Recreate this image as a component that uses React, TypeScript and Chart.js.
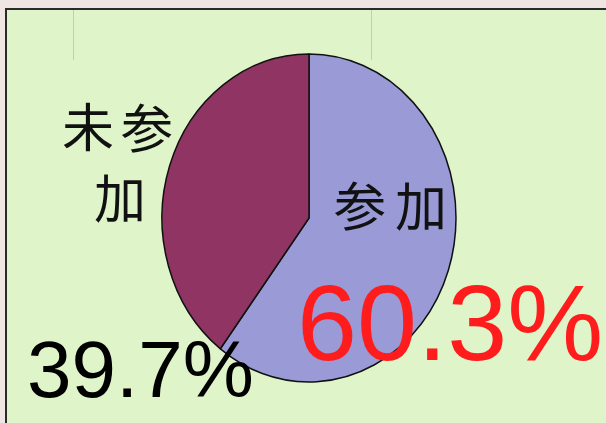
import React, { useEffect, useRef } from "react";
import { Chart, registerables } from "chart.js";

Chart.register(...registerables);

const categories = ["参加", "未参加"];
const values = [60.3, 39.7];
const sliceColors = ["#9a9ad6", "#8f3463"];
const percentLabels = ["60.3%", "39.7%"];

const W = 606;
const H = 423;
const CX = 309;
const CY = 218;
const RX = 147;
const RY = 164;

export default function App() {
  const ref = useRef<HTMLCanvasElement | null>(null);

  useEffect(() => {
    document.body.style.margin = "0";
    const canvas = ref.current;
    if (!canvas) return;

    const bgPlugin = {
      id: "bg",
      beforeDraw(chart: any) {
        const ctx = chart.ctx;
        ctx.save();
        ctx.fillStyle = "#efe6e3";
        ctx.fillRect(0, 0, W, H);
        ctx.fillStyle = "#dff5c9";
        ctx.fillRect(7, 10, W - 7, H - 10);
        ctx.fillStyle = "#e8d040";
        ctx.fillRect(73, 10, 1, 50);
        ctx.fillRect(371, 10, 1, 50);
        ctx.fillStyle = "#2a2a2a";
        ctx.fillRect(5, 8, W - 5, 2);
        ctx.fillRect(5, 8, 2, H - 8);
        ctx.restore();
      },
    };

    const ellipsePlugin = {
      id: "ellipse",
      beforeDatasetsDraw(chart: any) {
        const ctx = chart.ctx;
        ctx.save();
        ctx.translate(CX, CY);
        ctx.scale(1, RY / RX);
        ctx.translate(-CX, -CY);
      },
      afterDatasetsDraw(chart: any) {
        chart.ctx.restore();
      },
    };

    const textPlugin = {
      id: "texts",
      afterDraw(chart: any) {
        const ctx = chart.ctx;
        ctx.save();
        ctx.fillStyle = "#111111";
        ctx.textAlign = "center";
        ctx.textBaseline = "middle";
        ctx.font = '52px "Noto Sans CJK JP"';
        const left = categories[1];
        ctx.fillText(left[0], 88, 127);
        ctx.fillText(left[1], 147, 128);
        ctx.fillText(left[2], 120, 198);
        const right = categories[0];
        ctx.fillText(right[0], 360, 206);
        ctx.fillText(right[1], 421, 206);

        ctx.textAlign = "left";
        ctx.textBaseline = "alphabetic";
        ctx.fillStyle = "#000000";
        ctx.font = '80px "Liberation Sans", Arial, sans-serif';
        ctx.fillText(percentLabels[1], 27, 397);
        ctx.fillStyle = "#ff1c1c";
        ctx.font = '108px "Liberation Sans", Arial, sans-serif';
        ctx.fillText(percentLabels[0], 297, 360);
        ctx.restore();
      },
    };

    const chart = new Chart(canvas, {
      type: "pie",
      data: {
        labels: categories,
        datasets: [
          {
            data: values,
            backgroundColor: sliceColors,
            borderColor: "#111111",
            borderWidth: 1.5,
            radius: RX,
            clip: false,
          } as any,
        ],
      },
      options: {
        animation: false,
        responsive: false,
        maintainAspectRatio: false,
        layout: {
          padding: {
            left: CX - RX,
            right: W - CX - RX,
            top: CY - RX,
            bottom: H - CY - RX,
          },
        },
        plugins: {
          legend: { display: false },
          tooltip: { enabled: false },
        },
      },
      plugins: [bgPlugin, ellipsePlugin, textPlugin],
    });

    return () => chart.destroy();
  }, []);

  return (
    <div style={{ position: "fixed", left: 0, top: 0, width: W, height: H }}>
      <canvas ref={ref} width={W} height={H} style={{ width: W, height: H, display: "block" }} />
    </div>
  );
}
